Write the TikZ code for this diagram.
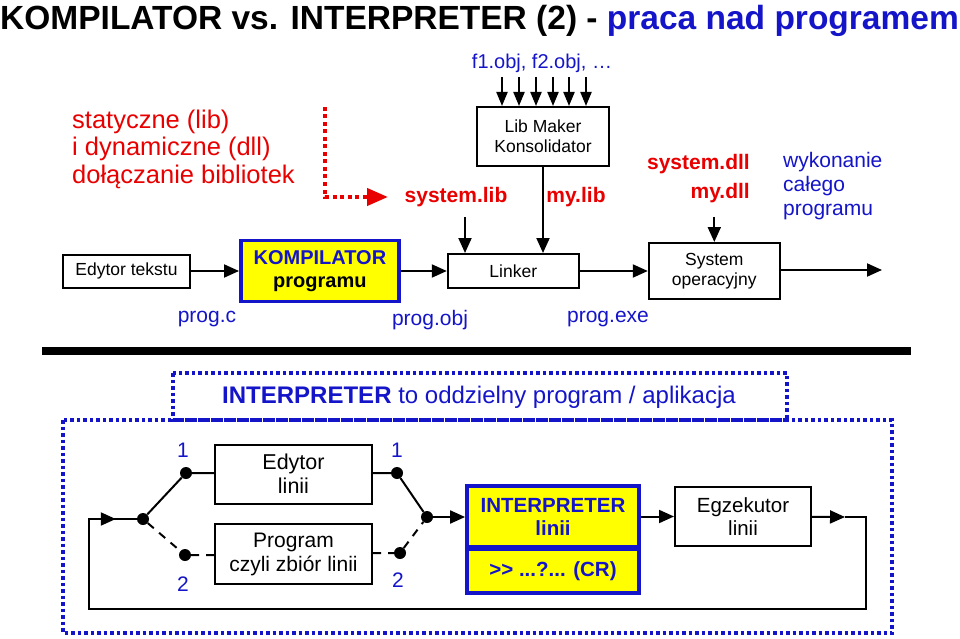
\documentclass[tikz,border=0pt]{standalone}
\usepackage{fontspec}
\setmainfont{Liberation Sans}
\usepackage{xcolor}
\usetikzlibrary{arrows.meta, positioning}
\definecolor{ppblue}{RGB}{20,20,200}
\definecolor{ppred}{RGB}{232,0,0}
\definecolor{ppyellow}{RGB}{255,255,0}
\newcommand{\fsz}[2]{\fontsize{#1pt}{#2pt}\selectfont}
\tikzset{
  box/.style={draw, line width=2pt, align=center, inner sep=0pt, fill=white},
  hotbox/.style={draw=ppblue, line width=3.8pt, fill=ppyellow, align=center, inner sep=0pt},
  arrow/.style={-{Triangle[length=15pt,width=13pt]}, line width=2pt},
  smallarrow/.style={-{Triangle[length=14pt,width=11pt]}, line width=2pt},
  feed/.style={line width=2pt},
  dashline/.style={line width=2pt, dash pattern=on 8pt off 7pt},
  dot/.style={circle, fill, inner sep=0pt, minimum size=12pt},
  bluelbl/.style={text=ppblue, font=\fsz{21}{24}, inner sep=0pt},
  redlbl/.style={text=ppred, font=\fsz{21}{24}\bfseries, inner sep=0pt},
  dotframe/.style={draw=ppblue, line width=3.5pt, dash pattern=on 3.5pt off 3pt},
  reddots/.style={draw=ppred, line width=4.5pt, dash pattern=on 4pt off 3.5pt},
  every node/.style={font=\fsz{17.5}{20}}
}
\begin{document}
\begin{tikzpicture}[x=1pt, y=-1pt]
    \useasboundingbox (0,0) rectangle (960,639);
    % title
    \node[anchor=base west, inner sep=0pt, font=\fsz{33.5}{38}\bfseries] (title) at (0,30)
      {KOMPILATOR vs. INTERPRETER (2) - \textcolor{ppblue}{praca nad programem}};

    % libraries
    \node[anchor=west, align=left, text=ppred, inner sep=0pt, font=\fsz{25.5}{27.5}] (libnote) at (72,149)
      {statyczne (lib)\\i dynamiczne (dll)\\dołączanie bibliotek};
    \coordinate (dotA) at (325,107);
    \coordinate (dotB) at (325,197);
    \coordinate (dotC) at (388,197);
    \draw[reddots] (dotA) -- (dotB) -- ([xshift=-20pt]dotC);
    \draw[ppred, line width=4pt, -{Triangle[length=21pt,width=17pt]}] ([xshift=-23pt]dotC) -- (dotC);

    \node[bluelbl, font=\fsz{20}{24}] (objs) at (542,63) {f1.obj, f2.obj, …};
    \node[box, minimum width=132pt, minimum height=59pt] (libmaker) at (543,136.5) {Lib Maker\\Konsolidator};
    \foreach \x [count=\i] in {502,519,536,553,569,586} {
      \coordinate (in\i) at (\x,77);
      \draw[smallarrow] (in\i) -- (in\i |- libmaker.north);
    }
    \node[redlbl] (slib) at (456,197) {system.lib};
    \node[redlbl] (mlib) at (576,197) {my.lib};
    \node[redlbl, anchor=east] (sdll) at (750,164) {system.dll};
    \node[redlbl, anchor=east] (mdll) at (750,193) {my.dll};
    \node[bluelbl, anchor=west, align=left] (whole) at (783,186) {wykonanie\\całego\\programu};

    % compiler chain
    \node[box, minimum width=127pt, minimum height=33pt] (edit) at (126.5,271) {Edytor tekstu};
    \node[hotbox, right=48pt of edit, minimum width=158pt, minimum height=61pt, font=\fsz{20}{23}\bfseries] (komp)
      {\textcolor{ppblue}{KOMPILATOR}\\programu};
    \node[box, right=46pt of komp, minimum width=131pt, minimum height=34pt] (linker) {Linker};
    \node[box, right=68pt of linker, minimum width=131pt, minimum height=56pt] (sysop) {System\\operacyjny};
    \coordinate (out) at (882,270);

    \draw[arrow] (edit) -- (komp);
    \draw[arrow] (komp) -- (linker);
    \draw[arrow] (linker) -- (sysop);
    \draw[arrow] (sysop.east |- out) -- (out);
    \draw[arrow] ([xshift=9pt,yshift=-10pt]slib.south) -- ([xshift=9pt]slib.south |- linker.north);
    \draw[arrow] (libmaker.south) -- (libmaker.south |- linker.north);
    \draw[arrow] ([yshift=-14pt]sysop.north |- mdll.south) -- (sysop.north);

    \node[bluelbl] (progc) at (207,319) {prog.c};
    \node[bluelbl] (progobj) at (430,320) {prog.obj};
    \node[bluelbl] (progexe) at (608,319) {prog.exe};

    \draw[line width=8pt] (42,351) -- (911,351);

    % interpreter
    \draw[dotframe] (173,373) rectangle (787,420);
    \draw[dotframe] (63,420) rectangle (892,633);
    \node[bluelbl, font=\fsz{24}{28}] (head) at (479,397) {\textbf{INTERPRETER} to oddzielny program / aplikacja};

    \node[box, minimum width=157pt, minimum height=59pt, font=\fsz{21.5}{24}] (edl) at (293.5,474) {Edytor\\linii};
    \node[box, minimum width=157pt, minimum height=60pt, font=\fsz{21}{24}] (prg) at (293.5,554) {Program\\czyli zbiór linii};
    \node[hotbox, minimum width=172pt, minimum height=61pt, text=ppblue, font=\fsz{20.5}{23}\bfseries] (interp) at (553,516.5) {INTERPRETER\\linii};
    \node[hotbox, minimum width=172pt, minimum height=44pt, text=ppblue, font=\fsz{20.5}{23}\bfseries] (cmd) at (553,571) {>{}> ...?... (CR)};
    \node[box, minimum width=136pt, minimum height=59pt, font=\fsz{20.5}{23}] (egz) at (743,516.5) {Egzekutor\\linii};

    \node[dot] (jl) at (143,519) {};
    \node[dot] (d1l) at (186,473) {};
    \node[dot] (d2l) at (185,555) {};
    \node[dot] (d1r) at (397,473) {};
    \node[dot] (d2r) at (400,553) {};
    \node[dot] (jr) at (427,517) {};
    \node[bluelbl] (n1l) at (183,450) {1};
    \node[bluelbl] (n2l) at (183,584) {2};
    \node[bluelbl] (n1r) at (397,450) {1};
    \node[bluelbl] (n2r) at (398,580) {2};

    \draw[feed] (jl) -- (d1l) -- (d1l -| edl.west);
    \draw[dashline] (jl) -- (d2l) -- (d2l -| prg.west);
    \draw[feed] (edl.east |- d1r) -- (d1r) -- (jr);
    \draw[dashline] (prg.east |- d2r) -- (d2r) -- (jr);
    \draw[arrow] (jr) -- (jr -| interp.west);
    \draw[arrow] (interp) -- (egz);

    \coordinate (loopA) at (845,517);
    \coordinate (loopR) at (866,609);
    \coordinate (loopL) at (89,519);
    \draw[arrow] (egz) -- (loopA);
    \draw[feed] (loopA) -| (loopR) -| (loopL) -- (jl);
    \draw[arrow, shorten >=21pt] (loopL) -- (jl);
\end{tikzpicture}
\end{document}
